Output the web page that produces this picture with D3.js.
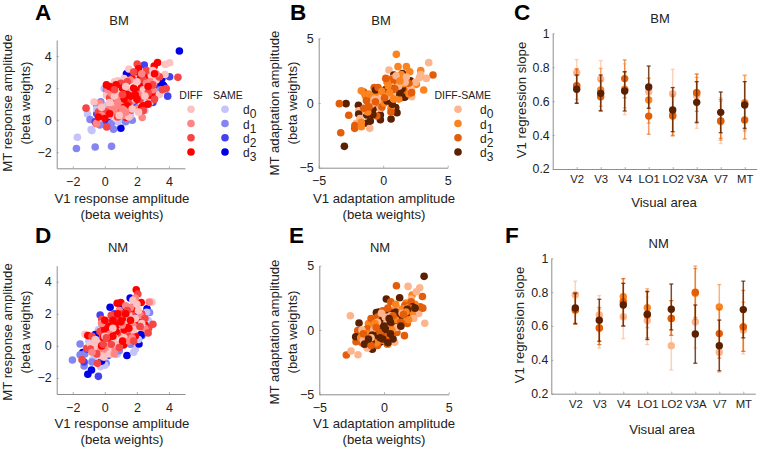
<!DOCTYPE html>
<html><head><meta charset="utf-8">
<script src="https://cdn.jsdelivr.net/npm/d3@7/dist/d3.min.js"></script>
<style>
html,body{margin:0;padding:0;background:#fff}
svg{display:block}
text{font-family:"Liberation Sans",Arial,sans-serif;fill:#222}
</style></head><body>
<svg id="c" width="768" height="449"></svg>
<script>
// ---------- panel A (BM response amplitude), [V1, MT]
const aSameD0=[[-1.71,-1.06],[-0.85,-0.58],[-0.8,-0.65],[-0.04,1.98],[-1.08,0.38],[0.3,-0.2],[0.8,-0.1],[1.2,0],[1.6,0.3],[2.5,0.6],[2.3,1.2],[3.0,1.7],[3.4,1.8],[-0.3,0.4],[0.5,1.5],[1.5,1.8],[2.7,2.4],[-0.5,0.7],[0.1,0.9],[1.0,0.3]];
const aSameD1=[[-1.77,-1.77],[-0.6,-1.67],[0.42,-1.63],[0.54,-0.56],[1.71,0],[-0.92,0.04],[-0.25,1.15],[0,0.9],[0.2,0.2],[-0.3,-0.3],[1.3,-0.1],[0.4,-0.2],[3.5,1.9],[2.9,1.4],[2.1,0.8],[0.1,1.9],[3.1,2.6]];
const aSameD2=[[4.04,2.71],[3.92,1.5],[3.4,2.0],[3.3,1.6],[2.46,3.44],[-0.5,0.4],[-0.6,-0.1],[0.1,-0.1],[0.4,0.7],[2.0,0.9],[3.0,1.1],[2.6,1.5]];
const aSameD3=[[4.65,4.31],[1.0,-0.5],[1.42,2.92],[3.56,2.6],[3.63,2.19],[1.6,2.85],[2.9,1.7],[3.5,2.3],[2.4,0.9],[2.2,1.0],[0.1,0.1],[0.3,0.5],[3.7,2.1],[1.35,2.9],[-0.5,1.0]];
const aDiffD0=[[4.04,3.58],[3.77,3.48],[3.75,2.85],[1.5,3.19],[-0.67,1.13],[2.3,1.0],[1.2,2.6],[0.8,2.45],[0.6,2.4],[0.1,1.55],[0.5,0.9],[0.9,1.1],[1.4,1.5],[1.9,1.3],[2.4,1.9],[2.9,2.8],[3.2,2.5],[3.4,1.6],[2.8,1.1],[-0.4,0.2],[0.2,0.3],[0.7,0.1],[1.2,0.6],[1.7,0.7],[1.0,1.8],[2.0,2.4],[0.3,1.1],[1.5,0.2],[2.5,1.5],[-0.2,0.8],[0.6,1.5],[1.3,2.1],[3.0,3.1],[0.9,0.3],[2.1,0.5]];
const aDiffD1=[[-0.3,1.04],[2.33,0.17],[2.7,2.8],[0.5,0.4],[0.8,0.7],[1.0,0.5],[0.6,1.2],[1.1,1.2],[1.4,0.9],[1.7,1.2],[0.3,0.7],[0.9,1.5],[0.4,1.7],[1.3,1.8],[2.1,1.6],[2.6,2.3],[3.0,1.9],[0.7,0.3],[1.2,0.3],[1.0,0.9],[0.2,1.9],[0.5,2.1],[2.0,0.7],[1.6,2.5],[2.3,2.9],[2.8,2.4],[3.2,2.9],[-0.2,0.3],[-0.5,-0.2],[0.6,0.7],[1.3,0.5],[0.8,1.1],[1.1,0.7]];
const aDiffD2=[[4.56,2.67],[2.02,3.5],[-1.17,0.75],[3.83,1.98],[0.12,-0.42],[-0.54,-0.21],[0.5,1.1],[0.9,0.6],[1.2,1.0],[0.7,1.4],[0.3,1.4],[1.5,1.1],[1.9,1.9],[2.4,2.5],[1.0,2.3],[0.4,2.0],[1.6,0.6],[2.2,1.3],[2.7,1.7],[3.1,1.3],[3.6,1.9],[3.4,2.7],[2.6,3.1],[1.8,3.0],[-0.1,0.6],[-0.4,0.5],[0.1,0.5],[0.8,0.2],[2.4,0.6],[1.1,1.6],[1.4,2.4],[3.0,2.2],[0.6,1.9]];
const aDiffD3=[[3.29,3.6],[3.08,3.38],[1.33,0.19],[2.1,3.2],[2.0,3.0],[1.7,2.6],[2.6,2.7],[2.2,2.6],[2.9,2.4],[3.0,1.7],[2.9,1.3],[2.4,1.7],[2.6,1.9],[2.1,1.8],[2.3,2.1],[1.8,2.0],[1.6,1.5],[1.4,1.6],[1.2,1.3],[1.4,0.9],[1.5,0.7],[1.2,0.8],[0.5,2.0],[0.3,2.1],[0.1,2.2],[0.7,2.2],[1.1,2.0],[2.3,0.8],[2.4,0.9],[2.7,1.0],[2.0,1.3],[0.3,0.4],[-0.4,0.2],[0.0,0.1],[3.1,2.9],[2.7,2.1],[1.9,1.6]];
// ---------- panel D (NM response amplitude), [V1, MT]
const dSameD0=[[-0.77,-0.88],[-0.27,-1.29],[0.77,-0.52],[1.9,-0.19],[-0.4,-1.1],[0,-1.2],[-0.6,-0.6],[-0.9,-0.2],[-1.0,0.3],[-0.4,1.0],[-0.1,0.4],[1.8,-0.4],[2.1,0.4],[2.7,1.6],[2.6,2.1]];
const dSameD1=[[-2.02,-0.88],[-1.29,-1.25],[-1.54,0.12],[-1.54,-0.56],[0.08,-1.09],[2.79,2.08],[-0.1,-0.8],[-0.8,-1.0],[-1.25,-0.5],[-0.7,0.1],[-0.3,0.5],[2.5,1.3],[2.3,1.7],[1.6,0.1],[0.9,-0.3]];
const dSameD2=[[-0.29,1.93],[2.31,0.64],[-0.4,-1.9],[-1.29,-1.0],[-0.2,-0.9],[-0.7,-0.3],[1.9,2.5],[2.2,1.6],[0.2,-0.6],[2.5,1.7],[0.6,2.0],[-1.1,-0.2],[-0.2,-0.7]];
const dSameD3=[[-1.06,-1.77],[-0.83,-1.5],[-1.38,-0.42],[0.33,2.41],[1.58,2.98],[2.63,2.31],[1.38,-0.6],[2.13,0.12],[2.25,0.7],[-0.2,-0.95],[2.4,1.5],[1.0,2.3],[-0.6,0.7],[2.1,1.9]];
const dDiffD0=[[2.94,2.73],[-1.23,0.73],[1.75,2.85],[-0.9,0.1],[-0.5,0.2],[-0.2,-0.3],[0.1,-0.4],[0.2,-0.1],[-0.2,0.3],[0.3,0.3],[0.7,0.1],[0.9,0.7],[1.3,1.6],[1.8,1.0],[1.9,1.7],[2.1,2.2],[-0.7,-0.1],[0.6,0.5],[0.3,-0.5],[-0.3,-0.6],[-0.6,0.4],[1.2,0.5],[1.5,1.9],[0.5,1.1],[2.3,1.4],[0.0,0.6],[2.0,2.6],[-0.05,-0.7]];
const dDiffD1=[[2.77,2.73],[1.9,2.98],[-0.6,-0.3],[-0.3,0.1],[0.2,0.2],[0.6,-0.2],[0.9,0.0],[0.5,0.8],[1.4,0.8],[1.8,1.4],[1.6,2.4],[2.2,1.9],[-0.1,0.8],[0.4,1.5],[1.1,1.3],[-0.4,-0.4],[0.0,-0.2],[0.1,1.1],[0.9,2.2],[1.3,2.5],[1.7,0.5],[2.5,1.1],[-0.8,-0.4],[0.6,-0.5],[0.3,0.7],[1.5,0.3],[-0.2,1.4]];
const dDiffD2=[[2.06,3.23],[-1.13,-0.15],[-1.42,-0.86],[-0.46,-1.09],[3.0,1.35],[2.73,1.1],[-0.19,1.66],[2.3,2.0],[2.0,1.3],[1.7,1.9],[1.3,1.2],[0.8,1.6],[0.4,1.9],[0.8,0.8],[0.2,1.3],[0.4,0.1],[0.9,-0.1],[1.5,0.6],[-0.3,0.9],[-0.8,0.6],[-0.9,-0.2],[-0.5,-0.5],[1.4,2.2],[2.5,1.7],[2.2,1.2],[2.7,0.8],[0.1,0.5],[1.1,2.0],[-0.1,0.1],[1.8,0.3]];
const dDiffD3=[[1.96,3.5],[2.27,2.71],[0.77,2.66],[-1.06,0.64],[1.9,0.62],[1.17,0.06],[1.0,2.7],[1.7,2.2],[1.9,1.3],[2.5,1.3],[2.1,1.6],[1.4,1.5],[1.2,1.0],[1.1,1.7],[0.8,1.3],[0.6,1.2],[0.5,1.6],[0.7,0.9],[1.0,1.5],[0.3,1.2],[0.0,1.0],[-0.1,1.3],[0.2,0.5],[-0.2,0.0],[-0.1,0.5],[0.5,0.6],[1.1,0.3],[0.0,1.6],[1.3,2.0],[0.8,2.0],[1.6,1.6],[1.5,1.1]];
// ---------- panel B (BM adaptation), [V1, MT]
const bD0=[[3.53,3.12],[3.35,1.9],[0.45,2.55],[2.21,0.49],[-1.04,-1.96],[-2.08,-1.57],[2.8,1.95],[2.9,2.2],[2.5,1.6],[1.9,1.3],[1.3,2.0],[0.7,1.3],[0.1,1.0],[-0.5,0.6],[-0.3,0.2],[0.9,0.6],[1.5,1.0],[-0.9,-0.1],[-1.4,-0.6],[-1.9,-0.6],[-0.2,-0.4],[0.5,0.1],[2.2,1.0],[-1.8,-1.2],[1.0,2.1],[1.8,2.0],[0.3,0.5],[-0.7,0.3],[1.2,1.3],[1.7,1.6]];
const bD1=[[1.02,3.76],[2.91,2.5],[1.15,2.81],[1.8,2.81],[2.06,2.42],[2.57,1.44],[-1.69,-1.83],[3.14,1.0],[-1.7,0.95],[0.7,1.9],[1.4,2.2],[1.0,1.0],[0.2,0.6],[-0.3,-0.1],[-0.9,0.3],[-0.6,0.8],[-1.4,0.6],[0.3,1.6],[1.6,1.5],[2.0,0.7],[0.6,-0.4],[-1.2,-0.7],[0.1,0.0],[1.2,0.3],[-1.7,-1.5],[0.4,1.3],[-0.1,0.9],[0.8,0.3],[-1.1,0.7],[1.3,1.7],[0.5,0.8]];
const bD2=[[3.86,2.16],[-3.4,-0.05],[-2.67,-0.95],[-3.29,-2.3],[-2.21,-1.96],[-2.2,-1.75],[-1.5,0.85],[-1.2,0.1],[-1.3,0.4],[-1.0,0.0],[-0.9,-0.5],[-0.5,-1.0],[-0.2,0.9],[0.4,1.7],[0.7,1.8],[1.1,1.6],[1.6,1.0],[2.0,1.5],[1.4,0.4],[0.5,0.5],[-0.1,-0.3],[0.6,-0.7],[-1.5,-0.4],[-0.7,1.2],[2.2,0.8],[-1.3,0.2],[-0.4,1.2],[0.1,0.4],[0.9,1.1],[-1.1,-0.3],[-0.6,0.1],[0.2,1.9]];
const bD3=[[-2.88,-0.05],[-3.01,-3.35],[-1.3,-1.57],[0.82,2.16],[1.49,2.27],[2.11,1.72],[0.61,-1.24],[-0.22,-1.3],[-0.22,-0.93],[1.07,-0.75],[0.97,-0.36],[-1.92,-0.18],[-1.28,-0.93],[-0.79,-0.49],[-0.19,-0.41],[0.22,1.05],[0.76,1.08],[1.46,1.13],[1.28,0.49],[1.67,0.44],[-0.8,-0.9],[-1.0,-1.4],[-1.9,-0.85],[0.3,0.15],[0.7,-0.1],[1.3,0.8],[-0.6,1.0]];
// ---------- panel E (NM adaptation), [V1, MT]
const eD0=[[1.86,3.39],[2.76,3.29],[2.5,2.98],[-2.6,1.11],[3.15,0.52],[2.68,1.29],[-2.55,-1.63],[-2.01,-1.92],[0.83,-0.96],[-1.23,-0.26],[1.0,1.7],[1.5,1.6],[1.3,0.9],[1.8,1.0],[0.7,0.5],[0.3,0.0],[-0.4,-0.5],[-0.8,0.0],[-1.1,-1.1],[-1.6,-0.8],[-1.7,0.0],[0.1,1.0],[2.1,2.4],[1.9,1.7],[2.3,0.9],[-0.2,1.3],[-1.3,-1.4],[0.5,1.1],[1.0,0.2],[-0.5,0.6],[-1.0,-0.6],[1.4,1.3],[0.2,0.5]];
const eD1=[[2.17,2.72],[1.7,2.1],[1.2,1.2],[0.7,1.5],[0.3,1.3],[-0.4,0.8],[-0.9,0.4],[-1.2,0.5],[-0.7,-0.2],[-1.5,-0.6],[-1.8,-0.6],[-0.2,0.2],[0.5,-0.2],[1.1,0.4],[1.6,0.7],[2.0,1.3],[2.4,2.0],[0.6,0.9],[-1.5,-1.1],[-0.6,-1.0],[0.3,-1.1],[0.9,2.0],[2.2,1.2],[-0.1,-0.8],[-1.3,-0.3],[0.1,0.3],[0.9,0.8],[1.4,1.6],[1.9,0.8],[-0.7,0.5],[0.6,0.0],[1.7,1.4]];
const eD2=[[0.96,3.44],[2.97,2.61],[0.52,2.2],[-2.91,-1.94],[1.58,-0.44],[-2.16,-0.91],[-2.03,-0.05],[3.0,1.7],[2.8,1.8],[1.6,1.9],[1.1,1.3],[0.6,0.7],[0.1,0.6],[-0.5,1.0],[-1.0,0.9],[-1.3,0.1],[-0.8,-0.5],[-1.7,-1.0],[-1.3,-0.9],[-0.5,-1.2],[0.2,-0.5],[1.0,-0.2],[1.8,0.5],[2.1,2.2],[-0.1,1.5],[-1.6,-0.3],[-0.3,-0.2],[0.4,0.2],[1.3,0.6],[2.0,1.7],[-1.0,-1.2],[0.7,1.1],[-0.6,0.2],[0.3,1.7],[1.5,1.2]];
const eD3=[[3.1,4.17],[0.18,2.41],[1.21,2.51],[-1.93,0.54],[-0.9,-1.5],[0.26,-1.09],[-0.3,-0.95],[-2.19,-0.52],[2.32,1.81],[2.12,1.24],[-0.59,1.35],[-0.4,1.4],[1.0,0.8],[0.6,1.3],[0.9,1.4],[0.2,1.5],[-0.1,0.8],[-0.4,0.3],[-0.2,-0.2],[0.1,-0.3],[-0.5,-0.4],[0.3,0.4],[1.2,1.0],[1.7,1.2],[2.2,1.8],[0.8,0.3],[0.3,-1.0],[-1.0,-0.9],[-0.9,-0.4],[-1.5,-1.1],[1.8,1.6],[2.4,1.7],[0.5,-0.3],[-0.1,-0.7],[0.1,0.1],[-0.3,-0.6],[0.5,0.6],[0.0,0.3],[1.3,0.3],[0.4,0.9],[-1.2,-0.7],[0.7,-0.7]];
// ---------- panels C, F: slope and error limits per visual area
const areas=["V2","V3","V4","LO1","LO2","V3A","V7","MT"];
const cMean=[[.768,.73,.67,.656,.644,.634,.48,.58],[.69,.666,.67,.607,.518,.65,.483,.591],[.691,.626,.733,.512,.512,.65,.483,.489],[.67,.646,.66,.683,.548,.593,.534,.577]];
const cLow=[[.69,.62,.52,.56,.50,.44,.35,.42],[.61,.57,.56,.47,.40,.48,.37,.43],[.59,.545,.62,.405,.395,.54,.38,.377],[.587,.542,.542,.558,.42,.473,.414,.44]];
const cHigh=[[.845,.839,.82,.735,.788,.76,.62,.75],[.79,.793,.77,.735,.64,.74,.60,.754],[.79,.72,.843,.62,.63,.76,.61,.60],[.754,.754,.774,.807,.68,.715,.654,.715]];
const fMean=[[.785,.665,.655,.632,.484,.624,.445,.576],[.695,.588,.773,.708,.645,.793,.712,.595],[.695,.588,.744,.665,.645,.799,.555,.595],[.706,.634,.724,.669,.699,.553,.484,.697]];
const fLow=[[.70,.47,.525,.49,.34,.47,.325,.435],[.61,.49,.65,.59,.545,.64,.57,.45],[.61,.49,.60,.53,.545,.65,.41,.45],[.615,.51,.60,.52,.577,.38,.335,.53]];
const fHigh=[[.865,.78,.79,.77,.63,.78,.57,.71],[.79,.70,.88,.82,.75,.955,.845,.74],[.79,.71,.88,.80,.75,.94,.70,.81],[.795,.758,.852,.805,.848,.724,.635,.865]];
// ---------- tick labels and text
const scatterTicksResp=[-2,0,2,4];
const scatterTicksAdapt=[-5,0,5];
const slopeTicks=[0.2,0.4,0.6,0.8,1];
const levels=["0","1","2","3"];
const redCols=["#fdc2c2","#ff8585","#f54545","#ff0000"];
const blueCols=["#c4c4fb","#8585f2","#4242ee","#0000e6"];
const oranges=["#fdb58e","#fb8420","#e45d08","#5a2000"];

const svg=d3.select("#c");
const axisCol="#8e8e8e";
const R=3.8;
function styleAxis(g,fs){
  g.selectAll("path").attr("stroke",axisCol).attr("stroke-width",1);
  g.selectAll("line").attr("stroke",axisCol).attr("stroke-width",.7);
  g.selectAll("text").attr("font-size",fs).attr("fill","#222").attr("font-family",'"Liberation Sans",Arial,sans-serif');
}
function txt(x,y,s,o={}){
  const t=svg.append("text").attr("x",x).attr("y",y).attr("font-size",o.fs||13).text(s)
    .attr("text-anchor",o.a||"middle");
  if(o.w)t.attr("font-weight",o.w);
  if(o.r!==undefined)t.attr("transform",`rotate(${o.r} ${x} ${y})`);
  return t;
}
// draw order: the i-th point of every level, then the next i, so the levels mix as in the figure
function interleave(sets,cols){
  const out=[];
  const n=d3.max(sets,s=>s.length);
  for(let i=0;i<n;i++){
    const order=[3,0,2,1];
    order.forEach(k=>{if(sets[k][i])out.push({p:sets[k][i],col:cols[k]});});
  }
  return out;
}
function scatterPanel(p){
  const x=d3.scaleLinear().domain(p.xd).range([p.l,p.r]);
  const y=d3.scaleLinear().domain(p.yd).range([p.b,p.t]);
  const gx=svg.append("g").attr("transform",`translate(0,${p.b})`)
    .call(d3.axisBottom(x).tickValues(p.ticksX).tickSize(-2).tickPadding(8).tickFormat(d3.format("d")).tickSizeOuter(0));
  const gy=svg.append("g").attr("transform",`translate(${p.l},0)`)
    .call(d3.axisLeft(y).tickValues(p.ticksY).tickSize(-2).tickPadding(p.padY).tickFormat(d3.format("d")).tickSizeOuter(0));
  styleAxis(gx,12.5);styleAxis(gy,12.5);
  gx.selectAll("text").attr("dy",0).attr("y",p.tickBase-p.b);
  svg.append("g").selectAll("circle").data(p.points).join("circle")
    .attr("cx",d=>x(d.p[0])).attr("cy",d=>y(d.p[1])).attr("r",R).attr("fill",d=>d.col);
}
function dLabel(x,y,k){
  const t=svg.append("text").attr("x",x).attr("y",y+5).attr("font-size",12).attr("text-anchor","start").text("d");
  t.append("tspan").attr("dy",4).attr("font-size",12).text(k);
}
function slopePanel(p){
  const x=d3.scaleLinear().domain([0,8.5]).range([p.l,p.r]);
  const y=d3.scaleLinear().domain([0.2,1]).range([p.b,p.t]);
  const gx=svg.append("g").attr("transform",`translate(0,${p.b})`)
    .call(d3.axisBottom(x).tickValues(d3.range(1,9)).tickSize(-2).tickPadding(8).tickFormat(i=>areas[i-1]).tickSizeOuter(0));
  const gy=svg.append("g").attr("transform",`translate(${p.l},0)`)
    .call(d3.axisLeft(y).tickValues(slopeTicks).tickSize(-2).tickPadding(3).tickFormat(d=>d===1?"1":d3.format(".1f")(d)).tickSizeOuter(0));
  styleAxis(gx,11.3);styleAxis(gy,12.3);
  gx.selectAll("text").attr("dy",0).attr("y",p.tickBase-p.b);
  [0,1,2,3].forEach(k=>{
    const g=svg.append("g");
    areas.forEach((a,i)=>{
      const cx=x(i+1),lo=y(p.low[k][i]),hi=y(p.high[k][i]),m=y(p.mean[k][i]);
      const op=k===3?.8:.6;
      g.append("line").attr("x1",cx).attr("x2",cx).attr("y1",lo).attr("y2",hi)
        .attr("stroke",oranges[k]).attr("stroke-width",1.5).attr("opacity",op);
      [lo,hi].forEach(v=>g.append("line").attr("x1",cx-2).attr("x2",cx+2).attr("y1",v).attr("y2",v)
        .attr("stroke",oranges[k]).attr("stroke-width",1.3).attr("opacity",op));
      g.append("circle").attr("cx",cx).attr("cy",m).attr("r",3.7).attr("fill",oranges[k]);
    });
  });
}
scatterPanel({l:56.7,r:185,t:40,b:168.3,xd:[-3,5],yd:[-3,5],ticksX:scatterTicksResp,ticksY:scatterTicksResp,padY:5,tickBase:186,
  points:[...interleave([aSameD0,aSameD1,aSameD2,aSameD3],blueCols),...interleave([aDiffD0,aDiffD1,aDiffD2,aDiffD3],redCols)]});
scatterPanel({l:56.7,r:185,t:265.7,b:394,xd:[-3,5],yd:[-3,5],ticksX:scatterTicksResp,ticksY:scatterTicksResp,padY:5,tickBase:411.7,
  points:[...interleave([dSameD0,dSameD1,dSameD2,dSameD3],blueCols),...interleave([dDiffD0,dDiffD1,dDiffD2,dDiffD3],redCols)]});
scatterPanel({l:318.7,r:447.7,t:38.3,b:167.7,xd:[-5,5],yd:[-5,5],ticksX:scatterTicksAdapt,ticksY:scatterTicksAdapt,padY:5,tickBase:185,
  points:interleave([bD0,bD1,bD2,bD3],oranges)});
scatterPanel({l:319.3,r:448.7,t:265.7,b:394.3,xd:[-5,5],yd:[-5,5],ticksX:scatterTicksAdapt,ticksY:scatterTicksAdapt,padY:5,tickBase:411.7,
  points:interleave([eD0,eD1,eD2,eD3],oranges)});
slopePanel({l:552.7,r:756.7,t:33.3,b:169,tickBase:182.7,mean:cMean,low:cLow,high:cHigh});
slopePanel({l:551.3,r:755.3,t:258.3,b:393.7,tickBase:407.7,mean:fMean,low:fLow,high:fHigh});

// panel letters
[["A",35,20],["B",290,20],["C",514,20],["D",35,243],["E",289,243],["F",505,243]]
 .forEach(d=>txt(d[1],d[2],d[0],{fs:22.5,w:"bold",a:"start"}).style("fill","#000"));
// titles
[["BM",119,25],["NM",118,251.7],["BM",381,25],["NM",380,251.7],["BM",660,23],["NM",658.7,248]]
 .forEach(d=>txt(d[1],d[2],d[0],{fs:13}));
// x labels
[["V1 response amplitude",122,203],["V1 response amplitude",122,428],["V1 adaptation amplitude",384,203],["V1 adaptation amplitude",384,428]]
 .forEach(d=>{txt(d[1],d[2],d[0],{fs:13.2});txt(d[1],d[2]+16,"(beta weights)",{fs:13.2});});
// y labels
[["MT response amplitude",12,103,30],["MT response amplitude",12,332,30],["MT adaptation amplitude",279,103,297],["MT adaptation amplitude",279,332,297]]
 .forEach(d=>{txt(d[1],d[2],d[0],{fs:13.2,r:-90});txt(d[3],d[2],"(beta weights)",{fs:13.2,r:-90});});
txt(664,207,"Visual area",{fs:13.2});txt(662,434,"Visual area",{fs:13.2});
txt(526,100,"V1 regression slope",{fs:13.2,r:-90});txt(524,325,"V1 regression slope",{fs:13.2,r:-90});
// legends
const legY=d3.scaleLinear().domain([0,3]).range([109.3,152]);
txt(191,99.3,"DIFF",{fs:10.5});txt(228,99.3,"SAME",{fs:10.5});
levels.forEach((k,i)=>{
  svg.append("circle").attr("cx",191).attr("cy",legY(i)).attr("r",R).attr("fill",redCols[i]);
  svg.append("circle").attr("cx",225).attr("cy",legY(i)).attr("r",R).attr("fill",blueCols[i]);
  dLabel(243,legY(i),k);
  svg.append("circle").attr("cx",458).attr("cy",legY(i)).attr("r",R).attr("fill",oranges[i]);
  dLabel(480,legY(i),k);
});
txt(462.7,99.3,"DIFF-SAME",{fs:10.5});
</script>
</body></html>
